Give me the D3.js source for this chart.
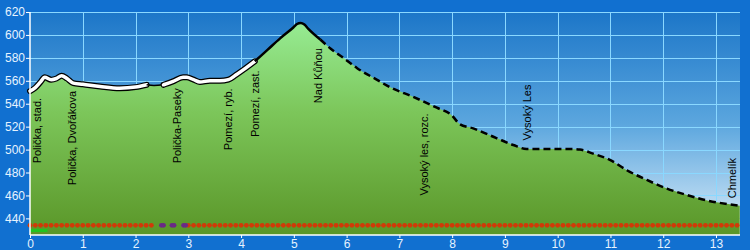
<!DOCTYPE html>
<html><head><meta charset="utf-8">
<script src="https://cdn.jsdelivr.net/npm/d3@7"></script>
<style>html,body{margin:0;padding:0;background:#1170d0;}svg{display:block;}</style>
</head><body>
<div id="chart"></div>
<script>
// ---- data ----
const distKm = [0.00,0.10,0.20,0.28,0.40,0.50,0.60,0.70,0.82,1.00,1.33,1.70,2.00,2.21,2.35,2.53,2.71,2.90,2.97,3.10,3.22,3.41,3.60,3.76,3.90,4.04,4.26,4.50,4.74,4.99,5.06,5.13,5.20,5.27,5.50,5.70,5.94,6.20,6.57,6.82,7.26,7.71,7.99,8.15,8.40,8.84,9.16,9.41,10.23,10.42,10.67,10.99,11.31,11.69,12.07,12.44,12.89,13.01,13.45];
const elevM  = [551,554,559,563,561,562,564.5,562,558,557,555,553.5,554.5,556.5,556,556.5,559.5,563,563,561,559,560,560,561,565,569.5,577,587,597,606.5,609.5,610.5,609,605.5,596,588,580,571,561,554.5,546,536.5,530,522,518.5,510,504,500.5,500.5,500,496.5,491,482,473.5,466,460.5,455,454,451];
const yTicks = [440,460,480,500,520,540,560,580,600,620];
const xTicks = [0,1,2,3,4,5,6,7,8,9,10,11,12,13];
// line segment styles: [fromKm, toKm, style]
const segFrom  = [0.00, 2.21, 2.53, 4.26, 5.50];
const segTo    = [2.21, 2.53, 4.26, 5.50, 13.45];
const segStyle = ["cased","thin","cased","solid","dashed"];
// waypoint labels
const wpNames = ["Polička, stad.","Polička, Dvořákova","Polička-Paseky","Pomezí, ryb.","Pomezí, zast.","Nad Kůňou","Vysoký les, rozc.","Vysoký Les","Chmelík"];
const wpKm    = [0.21,0.88,2.87,3.82,4.34,5.53,7.54,9.50,13.37];
const wpElev  = [488,469,488,499.5,511,540.5,460,508,457.5];
// surface marker rows
const redFrom = [0.0, 3.0];
const redTo   = [2.3, 13.4];
const purpleKm = [2.49,2.53,2.69,2.73,2.91,2.95];
const greenBarKm = [0.0, 0.33];

// ---- layout ----
const W = 750, H = 250;
const L = 30, R = 740, T = 12, B = 235;
const x = d3.scaleLinear().domain([0, 13.455]).range([L, R]);
const y = d3.scaleLinear().domain([425.5, 620]).range([B, T]);

const svg = d3.select("#chart").append("svg").attr("width", W).attr("height", H);
const defs = svg.append("defs");
const bg = defs.append("linearGradient").attr("id","bg").attr("x1",0).attr("y1",0).attr("x2",0).attr("y2",1);
bg.append("stop").attr("offset","0%").attr("stop-color","#1c76c8");
bg.append("stop").attr("offset","50%").attr("stop-color","#5ba6de");
bg.append("stop").attr("offset","100%").attr("stop-color","#dcedf9");
const gr = defs.append("linearGradient").attr("id","gr").attr("gradientUnits","userSpaceOnUse")
  .attr("x1",0).attr("y1",T).attr("x2",0).attr("y2",B);
gr.append("stop").attr("offset","0%").attr("stop-color","#9af09a");
gr.append("stop").attr("offset","45%").attr("stop-color","#7cc65a");
gr.append("stop").attr("offset","100%").attr("stop-color","#5a9628");

svg.append("rect").attr("width",W).attr("height",H).attr("fill","#1170d0");
svg.append("rect").attr("x",L).attr("y",T).attr("width",R-L).attr("height",B-T).attr("fill","url(#bg)");

// grid
const grid = svg.append("g").attr("stroke","#8ad8ff").attr("stroke-width",1).attr("shape-rendering","crispEdges");
grid.selectAll("line.h").data(yTicks).join("line").attr("class","h")
  .attr("x1",L).attr("x2",R).attr("y1",d=>Math.round(y(d))+0.5).attr("y2",d=>Math.round(y(d))+0.5);
grid.selectAll("line.v").data(xTicks.filter(d=>d>0)).join("line").attr("class","v")
  .attr("y1",T).attr("y2",B).attr("x1",d=>Math.round(x(d))+0.5).attr("x2",d=>Math.round(x(d))+0.5);

const pts = distKm.map((d,i)=>({km:d, el:elevM[i]}));
const curve = d3.curveMonotoneX;
const area = d3.area().x(d=>x(d.km)).y0(B).y1(d=>y(d.el)).curve(curve);
svg.append("path").datum(pts).attr("d",area).attr("fill","url(#gr)");

// profile line segments
const line = d3.line().x(d=>x(d.km)).y(d=>y(d.el)).curve(curve);
const lg = svg.append("g").attr("fill","none").attr("stroke-linejoin","round");
segStyle.forEach((st,i)=>{
  const sub = pts.filter(p=>p.km>=segFrom[i]-1e-9 && p.km<=segTo[i]+1e-9);
  const dd = line(sub);
  if (st==="cased") {
    lg.append("path").attr("d",dd).attr("stroke","#000").attr("stroke-width",6).attr("stroke-linecap","round");
    lg.append("path").attr("d",dd).attr("stroke","#fff").attr("stroke-width",3.5).attr("stroke-linecap","round");
  } else if (st==="thin") {
    lg.append("path").attr("d",dd).attr("stroke","#000").attr("stroke-width",1.5);
  } else if (st==="solid") {
    lg.append("path").attr("d",dd).attr("stroke","#000").attr("stroke-width",2.5);
  } else {
    lg.append("path").attr("d",dd).attr("stroke","#000").attr("stroke-width",2.5).attr("stroke-dasharray","7,4");
  }
});

// surface markers
const dotY = 225.3;
const reds = [];
redFrom.forEach((f,i)=>{ d3.range(Math.round(f*10), Math.round(redTo[i]*10)+1).forEach(k=>reds.push(k/10)); });
svg.append("g").selectAll("circle").data(reds).join("circle")
  .attr("cx",d=>x(d)).attr("cy",dotY).attr("r",2.4).attr("fill","#d03a08");
svg.append("g").selectAll("circle").data(purpleKm).join("circle")
  .attr("cx",d=>x(d)).attr("cy",dotY).attr("r",2.4).attr("fill","#6a2a86");
svg.append("rect").attr("x",x(greenBarKm[0])).attr("y",229).attr("width",x(greenBarKm[1])-x(greenBarKm[0])).attr("height",3).attr("fill","#22c41e");

// waypoint labels
svg.append("g").selectAll("text").data(wpNames).join("text")
  .attr("transform",(d,i)=>`translate(${x(wpKm[i])},${y(wpElev[i])}) rotate(-90)`)
  .attr("font-family","Liberation Sans, Arial, sans-serif").attr("font-size",11).attr("fill","#000")
  .text(d=>d);

// axes
const tc = "#e6f3ff";
const ya = svg.append("g").attr("transform",`translate(${L},0)`)
  .call(d3.axisLeft(y).tickValues(yTicks).tickSize(4).tickSizeOuter(0));
const xa = svg.append("g").attr("transform",`translate(0,${B})`)
  .call(d3.axisBottom(x).tickValues(xTicks).tickSize(3).tickSizeOuter(0).tickFormat(d3.format("d")));
[ya,xa].forEach(a=>{
  a.select(".domain").attr("stroke","#fff").attr("stroke-width",1.5);
  a.selectAll(".tick line").attr("stroke","#fff");
  a.selectAll("text").attr("fill",tc).attr("font-family","Liberation Sans, Arial, sans-serif").attr("font-size",12);
});
ya.selectAll("text").attr("x",-5);
xa.selectAll("text").attr("y",4);
ya.select(".domain").attr("d",`M0,${T}V${B}`);
xa.select(".domain").attr("d",`M${L},0H${R}`);
</script>
</body></html>
